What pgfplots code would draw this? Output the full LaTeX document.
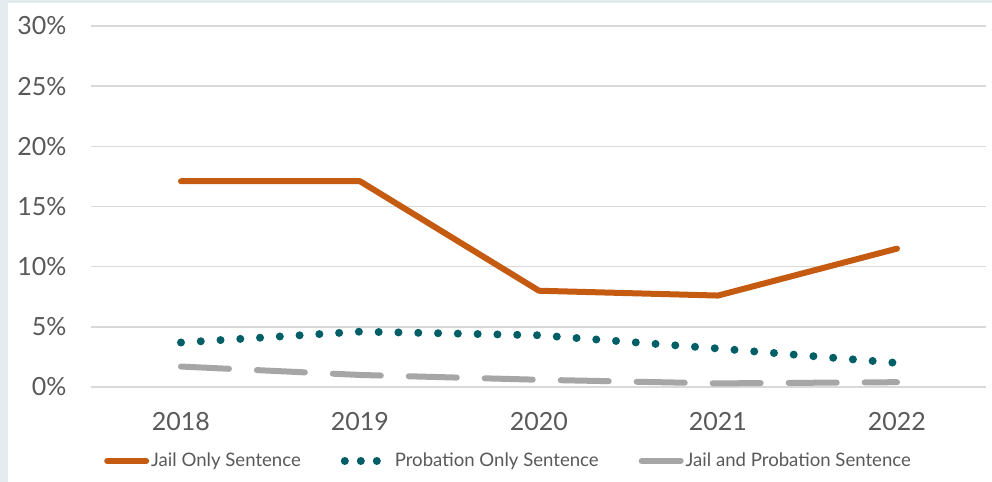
\documentclass[border=0pt]{standalone}
\usepackage{fontspec}
\setmainfont{Lato}
\usepackage{pgfplots}
\pgfplotsset{compat=1.18}
\definecolor{jailc}{HTML}{C55A11}
\definecolor{probc}{HTML}{005F66}
\definecolor{bothc}{HTML}{A6A6A6}
\definecolor{txt}{HTML}{595959}
\definecolor{gridc}{HTML}{D9D9D9}
\definecolor{framec}{HTML}{E4ECEF}

\pgfplotsset{
    lineleg/.style={legend image code/.code={\draw[##1] (1.5pt,0pt) -- (21pt,0pt);}},
    dotleg/.style={legend image code/.code={\draw[##1, dash pattern=on 0pt off 8pt] (2pt,0pt) -- (18pt,0pt); \path (24pt,0pt);}},
}

\begin{document}
\begin{tikzpicture}
% panel and frame (1 px of the reference = 0.5 pt)
\fill[framec] (-45.75pt,-47.5pt) rectangle (450.25pt,193.5pt);
\fill[white] (-41.75pt,-47.5pt) rectangle (450.25pt,192pt);
\useasboundingbox (-45.75pt,-47.5pt) rectangle (450.25pt,193.5pt);
\begin{axis}[
    at={(0pt,0pt)}, anchor=south west,
    scale only axis,
    width=447.5pt, height=180.5pt,
    xmin=-0.5, xmax=4.5,
    ymin=0, ymax=30,
    xtick={0,1,2,3,4},
    xticklabels={2018,2019,2020,2021,2022},
    ytick={0,5,...,30},
    yticklabel={\pgfmathprintnumber{\tick}\%},
    /pgf/number format/assume math mode=true,
    axis line style={draw=none},
    major tick length=0pt,
    ymajorgrids,
    grid style={gridc, line width=0.8pt},
    tick label style={font=\fontsize{12.5}{14}\selectfont, text=txt},
    yticklabel style={xshift=-9pt},
    xticklabel style={yshift=-9pt},
    legend columns=3,
    legend style={at={(0.466,-0.205)}, anchor=center, draw=none, fill=none,
        font=\fontsize{9.3}{11}\selectfont, text=txt,
        /tikz/every even column/.append style={column sep=19pt},
        nodes={inner xsep=1pt}},
    legend cell align=left,
]
\addplot[jailc, line width=3pt, line cap=round, line join=round, lineleg]
    coordinates {(0,17.1) (1,17.1) (2,8.0) (3,7.6) (4,11.5)};
\addlegendentry{Jail Only Sentence}
\addplot[probc, line width=4pt, line cap=round, dash pattern=on 0pt off 9.9pt, dotleg]
    coordinates {(0,3.7) (1,4.6) (2,4.3) (3,3.2) (4,2.0)};
\addlegendentry{Probation Only Sentence}
\addplot[bothc, line width=3pt, line cap=round, dash pattern=on 24pt off 14pt, lineleg]
    coordinates {(0,1.7) (1,1.0) (2,0.6) (3,0.3) (4,0.4)};
\addlegendentry{Jail and Probation Sentence}
\end{axis}
\end{tikzpicture}
\end{document}
